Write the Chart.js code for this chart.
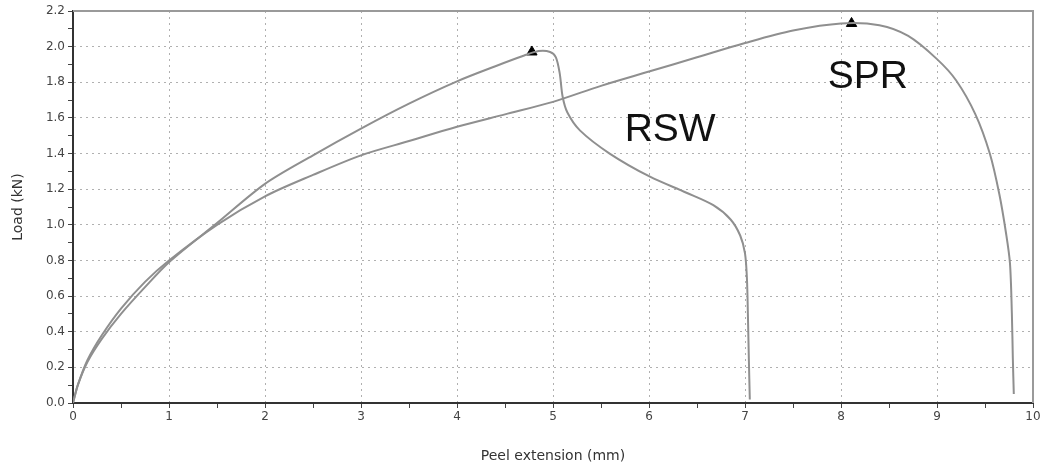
<!DOCTYPE html>
<html>
<head>
<meta charset="utf-8">
<script src="https://cdn.jsdelivr.net/npm/chart.js@4.4.1/dist/chart.umd.min.js"></script>
<style>
  html, body { margin: 0; padding: 0; background: #fff; }
  #wrap { width: 1047px; height: 469px; }
</style>
</head>
<body>
<div id="wrap"><canvas id="peelChart"></canvas></div>
<script>
// peel test curves, extension (mm) vs load (kN)
const rswExt = [0, 0.05, 0.15, 0.3, 0.5, 0.75, 1.0, 1.5, 2.0, 2.5, 3.0, 3.5, 4.0, 4.4, 4.7, 4.85, 4.97, 5.03, 5.07, 5.1, 5.15, 5.28, 5.59, 6.01, 6.39, 6.67, 6.85, 6.95, 7.0, 7.02, 7.03, 7.04, 7.05];
const rswLoad = [0, 0.10, 0.23, 0.36, 0.50, 0.65, 0.79, 1.01, 1.23, 1.39, 1.54, 1.68, 1.805, 1.89, 1.95, 1.975, 1.97, 1.94, 1.85, 1.72, 1.63, 1.53, 1.40, 1.27, 1.18, 1.11, 1.03, 0.94, 0.84, 0.70, 0.50, 0.25, 0.02];

const sprExt = [0, 0.05, 0.15, 0.3, 0.5, 0.75, 1.0, 1.5, 2.0, 2.5, 3.0, 3.5, 4.0, 4.5, 5.0, 5.5, 6.0, 6.5, 7.0, 7.5, 8.0, 8.4, 8.7, 9.0, 9.2, 9.4, 9.55, 9.65, 9.72, 9.76, 9.78, 9.79, 9.8];
const sprLoad = [0, 0.10, 0.24, 0.38, 0.53, 0.68, 0.80, 1.00, 1.16, 1.28, 1.39, 1.47, 1.55, 1.62, 1.69, 1.78, 1.86, 1.94, 2.02, 2.09, 2.13, 2.12, 2.06, 1.93, 1.81, 1.62, 1.40, 1.17, 0.95, 0.785, 0.50, 0.25, 0.05];

// peak load markers
const peakExt = [4.78, 8.11];
const peakLoad = [1.97, 2.13];

const xTicks = [0, 1, 2, 3, 4, 5, 6, 7, 8, 9, 10];
const yTicks = [0.0, 0.2, 0.4, 0.6, 0.8, 1.0, 1.2, 1.4, 1.6, 1.8, 2.0, 2.2];

const toPoints = (xs, ys) => xs.map((x, i) => ({ x, y: ys[i] }));

const isMajor = (v, list) => list.some(t => Math.abs(t - v) < 1e-6);

const curveLabels = {
  id: "curveLabels",
  afterDatasetsDraw(chart) {
    const { ctx, scales: { x, y } } = chart;
    ctx.save();
    ctx.fillStyle = "#111";
    ctx.font = "39px 'Liberation Sans', Arial, sans-serif";
    ctx.textAlign = "center";
    ctx.textBaseline = "middle";
    ctx.fillText("RSW", x.getPixelForValue(6.22), y.getPixelForValue(1.53));
    ctx.fillText("SPR", x.getPixelForValue(8.28), y.getPixelForValue(1.83));
    ctx.restore();
  }
};

// grey frame on top and right of the plot
const frame = {
  id: "frame",
  beforeDatasetsDraw(chart) {
    const { ctx, chartArea: a } = chart;
    ctx.save();
    ctx.strokeStyle = "#9a9a9a";
    ctx.lineWidth = 2;
    ctx.beginPath();
    ctx.moveTo(a.left, a.top);
    ctx.lineTo(a.right, a.top);
    ctx.lineTo(a.right, a.bottom);
    ctx.stroke();
    ctx.restore();
  }
};

const tickFont = { family: "'DejaVu Sans', Verdana, sans-serif", size: 12 };
const titleFont = { family: "'DejaVu Sans', Verdana, sans-serif", size: 14 };

new Chart(document.getElementById("peelChart"), {
  type: "line",
  data: {
    datasets: [
      {
        label: "RSW",
        data: toPoints(rswExt, rswLoad),
        borderColor: "#8f8f8f",
        borderWidth: 2,
        pointRadius: 0,
        tension: 0.3
      },
      {
        label: "SPR",
        data: toPoints(sprExt, sprLoad),
        borderColor: "#8f8f8f",
        borderWidth: 2,
        pointRadius: 0,
        tension: 0.3
      },
      {
        label: "Peak",
        type: "scatter",
        data: toPoints(peakExt, peakLoad),
        pointStyle: "triangle",
        pointRadius: 6,
        backgroundColor: "#000",
        borderColor: "#000",
        borderWidth: 1
      }
    ]
  },
  options: {
    responsive: true,
    maintainAspectRatio: false,
    animation: false,
    layout: { padding: { top: 11, right: 14, left: 0, bottom: 0 } },
    plugins: {
      legend: { display: false },
      tooltip: { enabled: false }
    },
    scales: {
      x: {
        type: "linear",
        min: 0,
        max: 10,
        afterFit: s => { s.height = 66; },
        afterBuildTicks: s => {
          s.ticks = [];
          for (let i = 0; i <= 20; i++) s.ticks.push({ value: i * 0.5 });
        },
        ticks: {
          autoSkip: false,
          maxRotation: 0,
          padding: 2,
          color: "#444",
          font: tickFont,
          callback: v => (isMajor(v, xTicks) ? String(v) : "")
        },
        grid: {
          color: c => (c.tick && isMajor(c.tick.value, xTicks) && c.tick.value > 0 && c.tick.value < 10 ? "#b0b0b0" : "rgba(0,0,0,0)"),
          tickColor: "#444",
          tickLength: 5,
          lineWidth: 1
        },
        border: { display: true, color: "#333", width: 2, dash: [2, 4] },
        title: {
          display: true,
          text: "Peel extension (mm)",
          color: "#333",
          font: titleFont,
          padding: { top: 6 }
        }
      },
      y: {
        min: 0,
        max: 2.2,
        afterFit: s => { s.width = 73; },
        afterBuildTicks: s => {
          s.ticks = [];
          for (let i = 0; i <= 22; i++) s.ticks.push({ value: i / 10 });
        },
        ticks: {
          autoSkip: false,
          padding: 3,
          color: "#444",
          font: tickFont,
          callback: v => (isMajor(v, yTicks) ? v.toFixed(1) : "")
        },
        grid: {
          color: c => (c.tick && isMajor(c.tick.value, yTicks) && c.tick.value > 0 && c.tick.value < 2.2 ? "#b0b0b0" : "rgba(0,0,0,0)"),
          tickColor: "#444",
          tickLength: 5,
          lineWidth: 1
        },
        border: { display: true, color: "#333", width: 2, dash: [2, 4] },
        title: {
          display: true,
          text: "Load (kN)",
          color: "#333",
          font: titleFont,
          padding: { top: 10, bottom: 4 }
        }
      }
    }
  },
  plugins: [frame, curveLabels]
});
</script>
</body>
</html>
